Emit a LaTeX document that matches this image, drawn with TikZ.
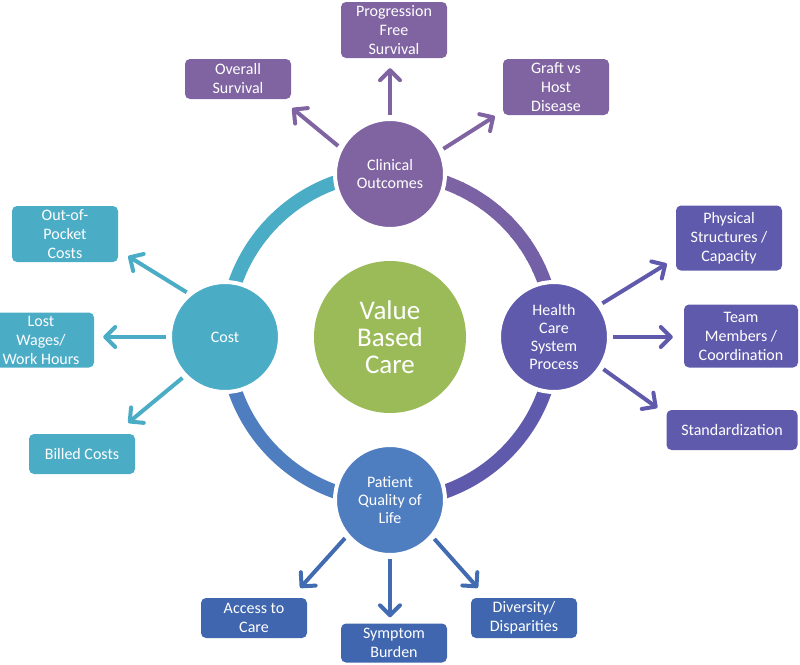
\documentclass[tikz,border=0pt]{standalone}
\usepackage{fontspec}
\setmainfont{Carlito}
\usetikzlibrary{arrows.meta,calc}
\definecolor{cpurple}{HTML}{8064A2}
\definecolor{cteal}{HTML}{4BACC6}
\definecolor{cindigo}{HTML}{5F5AAC}
\definecolor{cblue}{HTML}{4F7EC0}
\definecolor{cdblue}{HTML}{3F66AE}
\definecolor{cgreen}{HTML}{9BBB59}
\begin{document}
\begin{tikzpicture}[x=1pt,y=-1pt,
  circ/.style={circle, draw=white, line width=4pt, minimum size=110pt, inner sep=0pt,
    text=white, align=center, font=\fontsize{16}{18}\selectfont},
  bigcirc/.style={circle, minimum size=152pt, inner sep=0pt, fill=cgreen,
    text=white, align=center, font=\fontsize{27}{27}\selectfont},
  box/.style={rounded corners=5pt, inner sep=0pt, text=white, align=center,
    font=\fontsize{16}{19}\selectfont},
  arr/.style={line width=4pt, -{Straight Barb[length=10pt,width=20pt,line width=4pt,round]}, shorten <=2pt},
  ringseg/.style={line width=14pt}
]
\useasboundingbox (0,0) rectangle (800,664);
\coordinate (ctr) at (390,337);

% ring: top-right (270..360) gradient purple -> indigo
\foreach \i in {0,...,17}{
  \pgfmathsetmacro\p{100-\i*3.2}
  \pgfmathsetmacro\a{270+5*\i}
  \pgfmathsetmacro\b{275.6+5*\i}
  \draw[ringseg, color=cpurple!\p!cindigo] ([shift={(\a:164)}]ctr) arc[start angle=\a, end angle=\b, radius=164];
}
% bottom-right (0..90) indigo
\draw[ringseg, cindigo] ([shift={(0:164)}]ctr) arc[start angle=0, end angle=90, radius=164];
% bottom-left (90..180) blue
\draw[ringseg, cblue] ([shift={(90:164)}]ctr) arc[start angle=90, end angle=180, radius=164];
% top-left (180..270) teal
\draw[ringseg, cteal] ([shift={(180:164)}]ctr) arc[start angle=180, end angle=270, radius=164];

% circles
\node[bigcirc] (vbc) at (ctr) {Value\\Based\\Care};
\node[circ, fill=cpurple] (clin) at (390,174) {Clinical\\Outcomes};
\node[circ, fill=cteal] (cost) at (225,337) {Cost};
\node[circ, fill=cindigo] (hcsp) at (554,337) {Health\\Care\\System\\Process};
\node[circ, fill=cblue] (pat) at (390,500) {Patient\\Quality of\\Life};

% boxes
\node[box, fill=cpurple, minimum width=106pt, minimum height=56pt] (pfs) at (394,30) {Progression\\Free\\Survival};
\node[box, fill=cpurple, minimum width=106pt, minimum height=40pt] (os) at (238,79) {Overall\\Survival};
\node[box, fill=cpurple, minimum width=106pt, minimum height=56pt] (gvhd) at (556,87) {Graft vs\\Host\\Disease};

\node[box, fill=cteal, minimum width=106pt, minimum height=56pt] (oop) at (65,234) {Out-of-\\Pocket\\Costs};
\node[box, fill=cteal, minimum width=106pt, minimum height=55pt] (lost) at (41,340) {Lost\\Wages/\\Work Hours};
\node[box, fill=cteal, minimum width=106pt, minimum height=40pt] (billed) at (82,454) {Billed Costs};

\node[box, fill=cindigo, minimum width=106pt, minimum height=65pt] (phys) at (729,238) {Physical\\Structures /\\Capacity};
\node[box, fill=cindigo, minimum width=114pt, minimum height=63pt] (team) at (741,336) {Team\\Members /\\Coordination};
\node[box, fill=cindigo, minimum width=131pt, minimum height=40pt] (std) at (732,430) {Standardization};

\node[box, fill=cdblue, minimum width=106pt, minimum height=40pt] (acc) at (254,618) {Access to\\Care};
\node[box, fill=cdblue, minimum width=106pt, minimum height=39pt] (sym) at (394,643) {Symptom\\Burden};
\node[box, fill=cdblue, minimum width=106pt, minimum height=40pt] (div) at (524,618) {Diversity/\\Disparities};

% arrows
\draw[arr, cpurple] (clin.152) -- ([shift={(1,9)}]os.south east);
\draw[arr, cpurple, shorten >=10pt] (clin.north) -- (clin.north |- pfs.south);
\draw[arr, cpurple] (clin.25) -- ([shift={(-8,1)}]gvhd.south west);

\draw[arr, cteal] (cost.130) -- ([shift={(10,-6)}]oop.south east);
\draw[arr, cteal, shorten >=9pt] (cost.west) -- (cost.west -| lost.east);
\draw[arr, cteal] (cost.224) -- ([shift={(-7,-11)}]billed.north east);

\draw[arr, cindigo] (hcsp.35) -- ([shift={(-9,-7)}]phys.south west);
\draw[arr, cindigo, shorten >=11pt] (hcsp.east) -- (hcsp.east -| team.west);
\draw[arr, cindigo] (hcsp.327) -- ([shift={(-9,-2)}]std.north west);

\draw[arr, cdblue!80!cblue] (pat.220) -- ([shift={(-7,-10)}]acc.north east);
\draw[arr, cdblue!80!cblue, shorten >=6pt] (pat.south) -- (pat.south |- sym.north);
\draw[arr, cdblue!80!cblue] (pat.319) -- ([shift={(7,-10)}]div.north west);
\end{tikzpicture}
\end{document}
